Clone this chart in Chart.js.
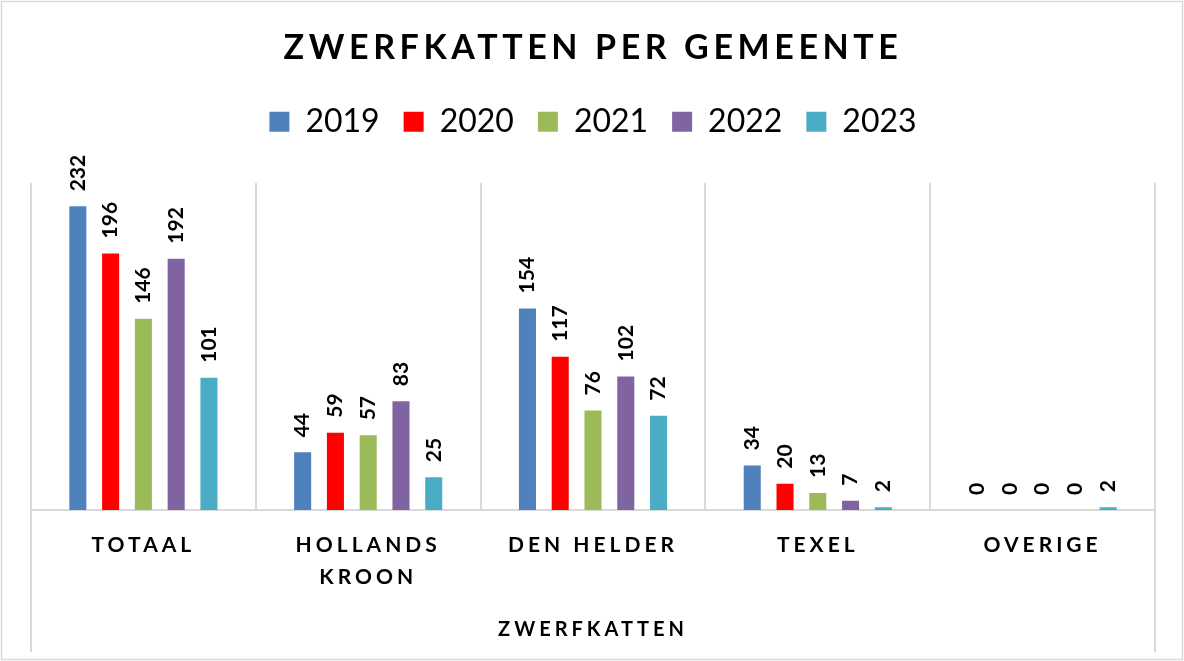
<!DOCTYPE html>
<html><head><meta charset="utf-8">
<script src="https://cdn.jsdelivr.net/npm/chart.js@4.4.0/dist/chart.umd.min.js"></script>
<style>html,body{margin:0;padding:0;background:#fff;}#wrap{width:1184px;height:661px;position:relative}</style>
</head><body><div id="wrap"><canvas id="c" width="1184" height="661"></canvas></div>
<script>
// ---- data ----
const categories = [['TOTAAL'], ['HOLLANDS', 'KROON'], ['DEN HELDER'], ['TEXEL'], ['OVERIGE']];
const years = ['2019', '2020', '2021', '2022', '2023'];
const v2019 = [232, 44, 154, 34, 0];
const v2020 = [196, 59, 117, 20, 0];
const v2021 = [146, 57, 76, 13, 0];
const v2022 = [192, 83, 102, 7, 0];
const v2023 = [101, 25, 72, 2, 2];
const seriesValues = [v2019, v2020, v2021, v2022, v2023];
const colors = ['#4F81BD', '#FF0000', '#9BBB59', '#8064A2', '#4BACC6'];
const chartTitle = 'ZWERFKATTEN PER GEMEENTE';
const axisTitle = 'ZWERFKATTEN';

const FONT = 'Lato';

const framePlugin = {
  id: 'frame',
  beforeDraw(chart) {
    const ctx = chart.ctx;
    ctx.save();
    ctx.fillStyle = '#fff';
    ctx.fillRect(0, 0, chart.width, chart.height);
    ctx.restore();
    ctx.save();
    ctx.letterSpacing = '4px';
  },
  afterDatasetsDraw(chart) {
    const ctx = chart.ctx;
    ctx.save();
    ctx.letterSpacing = '0px';
    ctx.font = 'bold 21px ' + FONT;
    ctx.fillStyle = '#000';
    ctx.textAlign = 'left';
    ctx.textBaseline = 'middle';
    chart.data.datasets.forEach((ds, i) => {
      chart.getDatasetMeta(i).data.forEach((bar, j) => {
        ctx.save();
        ctx.translate(bar.x, bar.y - 15);
        ctx.rotate(-Math.PI / 2);
        ctx.fillText(String(ds.data[j]), 0, 0);
        ctx.restore();
      });
    });
    ctx.restore();
  },
  afterDraw(chart) {
    const ctx = chart.ctx;
    ctx.restore();
    const a = chart.chartArea;
    ctx.save();
    ctx.strokeStyle = '#d9d9d9';
    ctx.lineWidth = 2;
    ctx.beginPath();
    [Math.round(a.left), Math.round(a.right)].forEach(x => {
      ctx.moveTo(x, a.bottom);
      ctx.lineTo(x, 652);
    });
    ctx.stroke();
    ctx.lineWidth = 1.5;
    ctx.strokeRect(1.5, 1.5, chart.width - 3, chart.height - 3);
    ctx.restore();
  }
};

const chart = new Chart(document.getElementById('c'), {
  type: 'bar',
  data: {
    labels: categories,
    datasets: years.map((y, i) => ({
      label: y,
      data: seriesValues[i],
      backgroundColor: colors[i],
      borderWidth: 0,
      categoryPercentage: 0.729,
      barPercentage: 0.52
    }))
  },
  options: {
    responsive: false,
    animation: false,
    devicePixelRatio: 1,
    layout: { padding: { left: 31, right: 29, top: 0, bottom: 0 } },
    plugins: {
      title: {
        display: true, text: chartTitle, color: '#000',
        font: { family: FONT, size: 34, weight: 'bold', lineHeight: 1.2 },
        padding: { top: 28, bottom: 13 }
      },
      subtitle: {
        display: true, text: '',
        font: { size: 10, lineHeight: 1.2 },
        padding: { top: 0, bottom: 23 }
      },
      legend: {
        display: true, position: 'top', weight: 1600,
        labels: {
          color: '#000', boxWidth: 20, boxHeight: 20, padding: 24,
          font: { family: FONT, size: 32, weight: 'normal' }
        }
      },
      tooltip: { enabled: false }
    },
    scales: {
      x: {
        grid: { display: true, offset: true, color: '#d9d9d9', lineWidth: 2, drawTicks: false },
        border: { display: true, color: '#d9d9d9', width: 2 },
        ticks: {
          color: '#000', padding: 19, maxRotation: 0, autoSkip: false,
          font: { family: FONT, size: 21, weight: 'bold', lineHeight: 1.55 }
        },
        title: {
          display: true, text: axisTitle, color: '#000',
          font: { family: FONT, size: 20, weight: 'bold', lineHeight: 1.2 },
          padding: { top: 5, bottom: 19 }
        }
      },
      y: { display: false, min: 0, max: 250 }
    }
  },
  plugins: [framePlugin]
});

const legendDraw = chart.legend.draw.bind(chart.legend);
chart.legend.draw = function (area) {
  const c = chart.ctx; c.save(); c.letterSpacing = '0px'; legendDraw(area); c.restore();
};
if (chart.titleBlock) {
  const titleDraw = chart.titleBlock.draw.bind(chart.titleBlock);
  chart.titleBlock.draw = function (area) {
    const c = chart.ctx; c.save(); c.letterSpacing = '4.6px'; titleDraw(area); c.restore();
  };
}
chart.draw();
</script>
</body></html>
